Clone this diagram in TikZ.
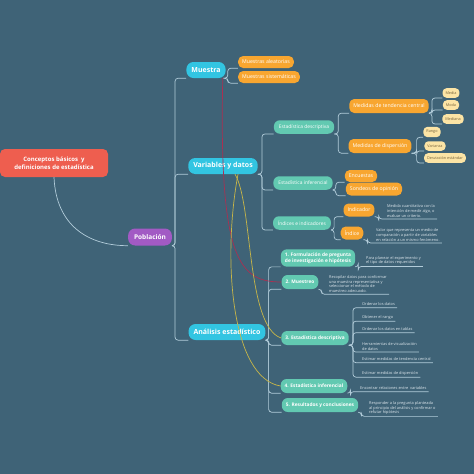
\documentclass[tikz,border=0pt]{standalone}
\usepackage{fontspec}
\setmainfont{Open Sans}
\usetikzlibrary{positioning}

\definecolor{bgblue}{RGB}{63,99,119}
\definecolor{rootred}{RGB}{238,94,79}
\definecolor{pobpurple}{RGB}{162,90,196}
\definecolor{topiccyan}{RGB}{50,197,226}
\definecolor{subteal}{RGB}{98,201,177}
\definecolor{leaforange}{RGB}{248,166,48}
\definecolor{tagyellow}{RGB}{252,228,165}
\definecolor{tagtext}{RGB}{120,100,60}
\definecolor{notegray}{RGB}{220,230,236}
\definecolor{linegray}{RGB}{178,204,218}
\definecolor{relred}{RGB}{170,48,82}
\definecolor{relyellow}{RGB}{200,182,72}

\begin{document}
\begin{tikzpicture}[x=1pt,y=-1pt,
 root node/.style={fill=rootred,text=white,rounded corners=5pt,align=center,font=\bfseries\fontsize{6}{7.5}\selectfont,minimum width=108pt,minimum height=28pt},
 pob node/.style={fill=pobpurple,text=white,rounded corners=7pt,font=\bfseries\fontsize{6.5}{8}\selectfont,minimum height=17pt,inner xsep=6pt},
 topic node/.style={fill=topiccyan,text=white,rounded corners=7pt,font=\bfseries\fontsize{7}{8}\selectfont,minimum height=16pt,inner xsep=5pt},
 sub node/.style={fill=subteal,text=white,rounded corners=6pt,font=\fontsize{4.9}{6}\selectfont,minimum height=13.5pt,inner xsep=5pt},
 phase node/.style={fill=subteal,text=white,rounded corners=6pt,align=center,font=\bfseries\fontsize{4.8}{5.8}\selectfont,minimum height=14pt,inner xsep=4pt},
 leaf node/.style={fill=leaforange,text=white,rounded corners=5pt,font=\fontsize{5.2}{6}\selectfont,minimum height=12pt,inner xsep=4pt},
 tag node/.style={fill=tagyellow,text=tagtext,rounded corners=4pt,font=\fontsize{3.8}{4.5}\selectfont,minimum height=9.5pt,inner xsep=3pt},
 note node/.style={text=notegray,font=\fontsize{3.9}{4.7}\selectfont,align=left,inner xsep=2pt,inner ysep=1.5pt,anchor=west},
 branch/.style={draw=linegray,line width=0.7pt,rounded corners=3pt},
 rel/.style={line width=0.7pt}]

\fill[bgblue] (0,0) rectangle (474,474);

% main topics
\node[root node] (root) at (54,163) {Conceptos básicos \ y\\definiciones de estadística};
\node[pob node] (pob) at (150,237) {Población};
\node[topic node] (mu) at (206,70) {Muestra};
\node[topic node] (vd) at (223,166) {Variables y datos};
\node[topic node] (ae) at (227,332) {Análisis estadístico};

% muestra
\node[leaf node] (ma) at (266,62) {Muestras aleatorias};
\node[leaf node] (ms) at (269,77) {Muestras sistemáticas};

% variables y datos
\node[sub node] (ed) at (304,127) {Estadística descriptiva};
\node[sub node] (ei) at (303,183) {Estadística inferencial};
\node[sub node] (ii) at (302,223) {Índices e indicadores};

\node[leaf node,minimum height=14pt] (mtc) at (389,106) {Medidas de tendencia central};
\node[leaf node,minimum height=14pt] (mdd) at (380,146) {Medidas de dispersión};
\node[tag node] (media) at (451,93) {Media};
\node[tag node] (moda) at (451,105) {Moda};
\node[tag node] (mediana) at (453,119) {Mediana};
\node[tag node] (rango) at (432,132) {Rango};
\node[tag node] (varianza) at (435,146) {Varianza};
\node[tag node] (desv) at (445,158) {Desviación estándar};

\node[leaf node] (enc) at (361,176) {Encuestas};
\node[leaf node,minimum height=13pt] (son) at (374,189) {Sondeos de opinión};
\node[leaf node,minimum height=13pt] (indr) at (359,210) {Indicador};
\node[leaf node,minimum height=13pt] (indc) at (352,233) {Índice};
\node[note node] (nindr) at (385,211) {Medida cuantitativa con la\\intención de medir algo, o\\evaluar un criterio.};
\node[note node] (nindc) at (374,235) {Valor que representa un medio de\\comparación a partir de variables\\en relación a un mismo fenómeno.};

% analisis estadistico
\node[phase node] (f1) at (318,258) {1. Formulación de pregunta\\de investigación e hipótesis};
\node[phase node] (f2) at (300,282) {2. Muestreo};
\node[phase node] (f3) at (315,338) {3. Estadística descriptiva};
\node[phase node] (f4) at (314,386) {4. Estadística inferencial};
\node[phase node] (f5) at (320,405) {5. Resultados y conclusiones};

\node[note node] (n1) at (364,260.5) {Para planear el experimento y\\el tipo de datos requeridos};
\node[note node] (n2) at (327,284) {Recopilar datos para conformar\\una muestra representativa y\\seleccionar el método de\\muestreo adecuado.};
\node[note node] (d1) at (360,304.5) {Ordenar los datos};
\node[note node] (d2) at (360,317.5) {Obtener el rango};
\node[note node] (d3) at (360,329.5) {Ordenar los datos en tablas};
\node[note node] (d4) at (360,346.5) {Herramientas de visualización\\de datos};
\node[note node] (d5) at (360,359.5) {Estimar medidas de tendencia central};
\node[note node] (d6) at (360,373.5) {Estimar medidas de dispersión};
\node[note node] (n4) at (358,388.5) {Encontrar relaciones entre \ variables};
\node[note node] (n5) at (367,408) {Responder a la pregunta planteada\\al principio del análisis y confirmar o\\refutar hipótesis};

% branches
\draw[branch] (root.south) .. controls +(2,48) and +(-40,0) .. (pob.south west);
\foreach \s/\t/\d in {pob/mu/3, pob/vd/3, pob/ae/3, mu/ma/2, mu/ms/2, vd/ed/4, vd/ei/4, vd/ii/4,
  ed/mtc/4, ed/mdd/4, mtc/media/3, mtc/moda/3, mtc/mediana/3, mdd/rango/5, mdd/varianza/5, mdd/desv/5,
  ei/enc/3, ei/son/3, ii/indr/3, ii/indc/3, ae/f1/3, ae/f2/3, ae/f3/3, ae/f4/3, ae/f5/3}
  \draw[branch] (\s.south east) -- ++(\d,0) |- (\t.south west);
\foreach \s/\t/\d in {indr/nindr/4, indc/nindc/4, f1/n1/3, f2/n2/3, f3/d1/4, f3/d2/4, f3/d3/4,
  f3/d4/4, f3/d5/4, f3/d6/4, f4/n4/3, f5/n5/3}
  \draw[branch] (\s.south east) -- ++(\d,0) |- (\t.south west) -- (\t.south east);

% relations
\draw[rel,relred] ([xshift=-3pt]mu.south east) .. controls +(-4,182) and +(-42,0) .. (f2.west);
\draw[rel,relyellow] ([xshift=12pt]vd.south) .. controls +(18,30) and +(-35,-12) .. (f3.west);
\draw[rel,relyellow] ([xshift=15pt]vd.south) .. controls +(-16,86) and +(-49,-8) .. (f4.west);

\end{tikzpicture}
\end{document}
